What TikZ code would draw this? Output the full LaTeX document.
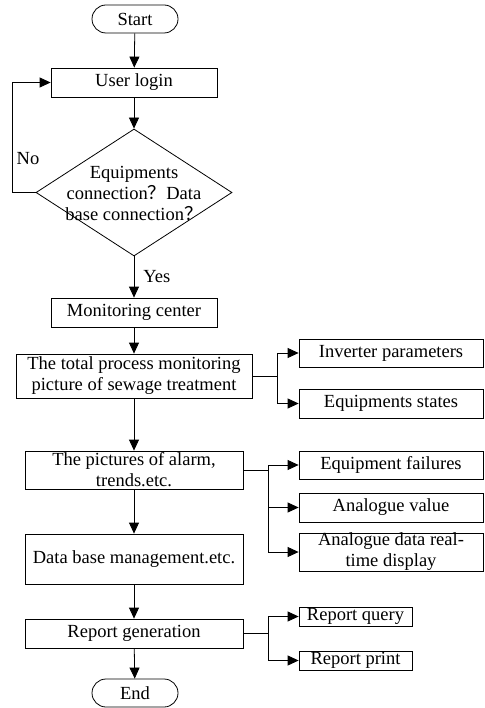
\documentclass[tikz,border=0pt]{standalone}
\usepackage{fontspec}
\setmainfont{Liberation Serif}
\newfontfamily\cjk{Noto Sans CJK SC}
\usetikzlibrary{arrows.meta,shapes.geometric}
\begin{document}
\begin{tikzpicture}[x=1pt,y=-1pt,
  every node/.style={font=\fontsize{18.5}{21}\selectfont},
  box/.style={draw, line width=0.8pt, inner sep=0pt, align=center},
  term/.style={draw, line width=0.8pt, inner sep=0pt, rounded corners=14pt, minimum width=86pt, minimum height=28pt},
  conn/.style={line width=0.8pt},
  arr/.style={line width=0.8pt, -{Triangle[length=11pt,width=10pt]}},
  lbl/.style={inner sep=0pt}]
\useasboundingbox (0,0) rectangle (484,708);
% main column
\node[term] (start) at (135,19) {Start};
\node[box, minimum width=166pt, minimum height=29pt] (login) at (134,82.5) {User login};
\node[diamond, draw, line width=0.8pt, minimum width=196pt, minimum height=127pt, inner sep=0pt] (dec) at (134,192.5) {};
\node[align=center, inner sep=0pt] (dect) at (134,193) {Equipments\\connection{\cjk ？}Data\\base connection{\cjk ？}};
\node[box, minimum width=166pt, minimum height=29pt] (mon) at (134,312.5) {Monitoring center};
\node[box, minimum width=236pt, minimum height=44pt] (total) at (134,376) {The total process monitoring\\picture of sewage treatment};
\node[box, minimum width=218pt, minimum height=38pt] (alarm) at (134,470) {The pictures of alarm,\\trends.etc.};
\node[box, minimum width=218pt, minimum height=50pt] (dbm) at (134,559) {Data base management.etc.};
\node[box, minimum width=218pt, minimum height=29pt] (rep) at (134,633.5) {Report generation};
\node[term] (end) at (135,693) {End};
% right boxes
\node[box, minimum width=184pt, minimum height=28pt] (inv) at (391,353) {Inverter parameters};
\node[box, minimum width=184pt, minimum height=29pt] (st) at (391,403.5) {Equipments states};
\node[box, minimum width=184pt, minimum height=28pt] (fail) at (391,465) {Equipment failures};
\node[box, minimum width=184pt, minimum height=29pt] (av) at (391,507.5) {Analogue value};
\node[box, minimum width=184pt, minimum height=38pt] (ad) at (391,552) {Analogue data real-\\time display};
\node[box, minimum width=113pt, minimum height=19pt] (rq) at (355.5,616.5) {Report query};
\node[box, minimum width=113pt, minimum height=19pt] (rp) at (355.5,660.5) {Report print};
% labels
\node[lbl] (no) at (28,159) {No};
% connectors
\draw[arr] (start) -- (login);
\draw[arr] (login) -- (dec.north);
\coordinate (lp) at (12,192.5);
\draw[arr] (dec.west) -- (lp) |- (login.west);
\draw[arr] (dec.south) -- node[lbl, anchor=west, xshift=9pt] (yes) {Yes} (mon.north);
\draw[arr] (mon) -- (total);
\draw[arr] (total) -- (alarm);
\draw[arr] (alarm) -- (dbm);
\draw[arr] (dbm) -- (rep);
\draw[arr] (rep) -- (end);
\coordinate (b1) at (277,376);
\draw[conn] (total.east) -- (b1);
\draw[arr] (b1) |- (inv.west);
\draw[arr] (b1) |- (st.west);
\coordinate (b2) at (268,470);
\draw[conn] (alarm.east) -- (b2);
\draw[arr] (b2) |- (fail.west);
\draw[arr] (b2) |- (av.west);
\draw[arr] (b2) |- (ad.west);
\coordinate (b3) at (268,633.5);
\draw[conn] (rep.east) -- (b3);
\draw[arr] (b3) |- (rq.west);
\draw[arr] (b3) |- (rp.west);
\end{tikzpicture}
\end{document}
